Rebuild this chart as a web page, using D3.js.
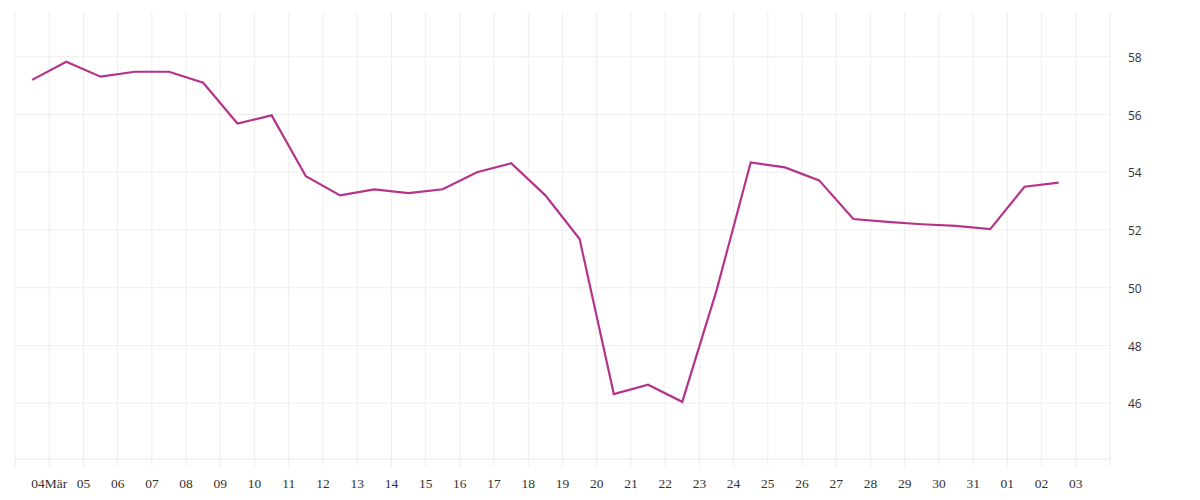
<!DOCTYPE html>
<html><head><meta charset="utf-8">
<script src="https://cdn.jsdelivr.net/npm/d3@7"></script>
<style>body{margin:0;background:#fff}</style></head>
<body><svg id="c" width="1200" height="500"></svg>
<script>
const values=[57.2,57.83,57.31,57.48,57.48,57.1,55.69,55.97,53.86,53.2,53.41,53.28,53.41,54.0,54.31,53.2,51.69,46.32,46.64,46.05,49.9,54.34,54.17,53.72,52.38,52.28,52.2,52.14,52.03,53.5,53.64];
const dates=values.map((v,i)=>new Date(2020,2,3+i,12));
const yTicks=[46,48,50,52,54,56,58];
const svg=d3.select("#c");
const x=d3.scaleTime().domain([new Date(2020,2,3),new Date(2020,3,4)]).range([15,1110]);
const y=d3.scaleLinear().domain([44.07,59.55]).range([459,12]);
const days=d3.timeDay.range(new Date(2020,2,3),new Date(2020,3,5));
svg.append("g").selectAll("line").data(days).join("line")
 .attr("x1",d=>x(d)).attr("x2",d=>x(d)).attr("y1",12).attr("y2",467)
 .attr("stroke","#eeeeee");
svg.append("g").selectAll("line").data(yTicks).join("line")
 .attr("x1",15).attr("x2",1110).attr("y1",d=>y(d)).attr("y2",d=>y(d)).attr("stroke","#eeeeee");
svg.append("line").attr("x1",15).attr("x2",1110).attr("y1",459).attr("y2",459).attr("stroke","#e6e6e6");
svg.append("g").selectAll("text").data(yTicks).join("text")
 .attr("x",1128).attr("y",d=>y(d)+5).text(d=>d)
 .attr("font-family","Open Sans").attr("font-size",12).attr("fill","#333");
const labDays=days.slice(1,32);
svg.append("g").selectAll("text").data(labDays).join("text")
 .attr("x",d=>x(d)).attr("y",488).attr("text-anchor","middle")
 .text((d,i)=>i===0?d3.timeFormat("%d")(d)+"Mär":d3.timeFormat("%d")(d))
 .attr("font-family","Liberation Serif").attr("font-size",13.5).attr("fill","#333");
svg.append("path").datum(values).attr("fill","none").attr("stroke","#b5338a").attr("stroke-width",2.2)
 .attr("d",d3.line().x((d,i)=>x(dates[i])).y(d=>y(d)));
</script></body></html>
